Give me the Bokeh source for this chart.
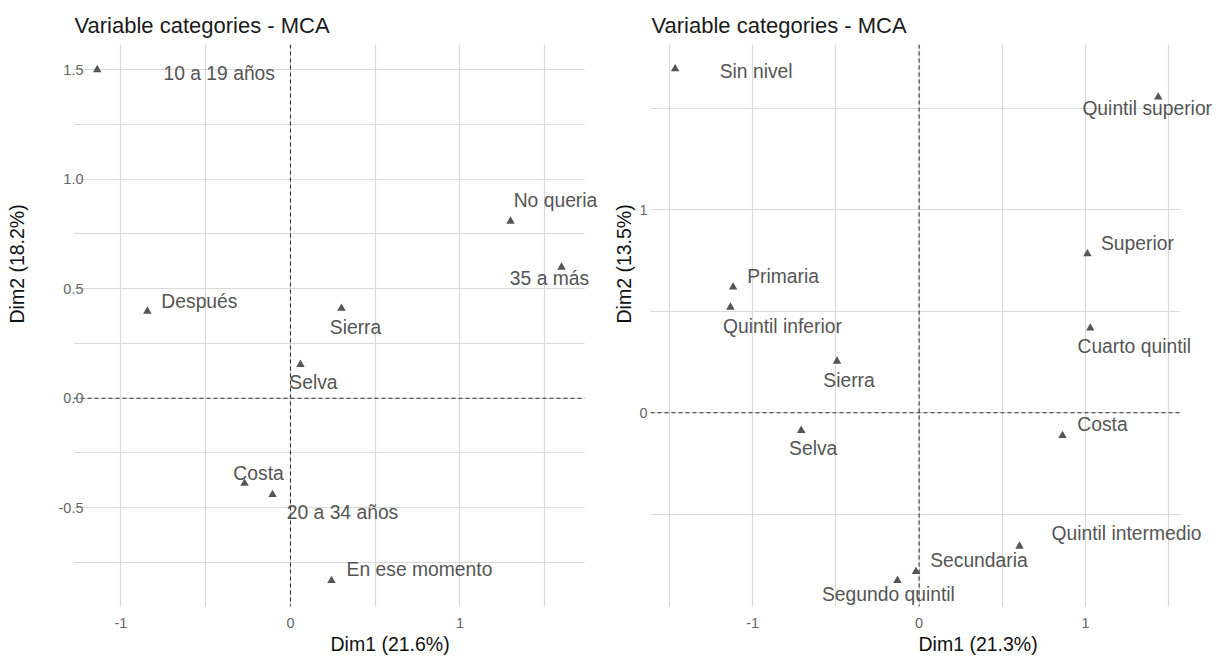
from bokeh.plotting import figure
from bokeh.models import (ColumnDataSource, LabelSet, Span, FixedTicker, Range1d,
                          PrintfTickFormatter, Title, LinearAxis, BoxAnnotation)
from bokeh.layouts import row
from bokeh.core.properties import value
from bokeh.embed import file_html
from bokeh.resources import INLINE

FONT = "Liberation Sans"

# ---------------- data: left panel ----------------
left_title = "Variable categories - MCA"
left_xlab = "Dim1 (21.6%)"
left_ylab = "Dim2 (18.2%)"
left_cats = ["10 a 19 años", "No queria", "35 a más", "Después", "Sierra",
             "Selva", "Costa", "20 a 34 años", "En ese momento"]
left_dim1 = [-1.140, 1.298, 1.599, -0.844, 0.301, 0.059, -0.271, -0.106, 0.242]
left_dim2 = [1.500, 0.808, 0.598, 0.397, 0.410, 0.154, -0.389, -0.440, -0.833]
# label placement (pixel offsets from the point, repel-style)
left_dx = [122, 45, -12, 52, 14, 13, 14, 70, 88]
left_dy = [-4, 21, -11, 10, -19, -18, 10, -18, 11]
left_xticks = [-1, 0, 1]
left_yticks = [-0.5, 0.0, 0.5, 1.0, 1.5]

# ---------------- data: right panel ----------------
right_title = "Variable categories - MCA"
right_xlab = "Dim1 (21.3%)"
right_ylab = "Dim2 (13.5%)"
right_cats = ["Sin nivel", "Quintil superior", "Superior", "Primaria",
              "Quintil inferior", "Cuarto quintil", "Sierra", "Selva", "Costa",
              "Quintil intermedio", "Secundaria", "Segundo quintil"]
right_dim1 = [-1.465, 1.436, 1.011, -1.117, -1.133, 1.028, -0.493, -0.708,
              0.861, 0.603, -0.019, -0.130]
right_dim2 = [1.694, 1.555, 0.783, 0.619, 0.520, 0.417, 0.254, -0.087,
              -0.112, -0.657, -0.782, -0.826]
right_dx = [81, -11, 50, 50, 52, 44, 12, 12, 40, 107, 63, -9]
right_dy = [-3, -11, 10, 11, -19, -18, -19, -18, 11, 13, 11, -14]
right_xticks = [-1, 0, 1]
right_yticks = [0, 1]

H = 657


def make_panel(cats, d1, d2, dx, dy, title, xlab, ylab, xr, yr, panel_edge,
               xticks, yticks, yfmt, gx, gy, width, bl, ystand, spacer,
               xlab_off, ylab_off):
    p = figure(width=width, height=H, x_range=Range1d(*xr), y_range=Range1d(*yr),
               output_backend="svg", toolbar_location=None,
               min_border_left=bl, min_border_right=0,
               min_border_top=44, min_border_bottom=51)
    p.outline_line_color = None
    p.background_fill_color = "white"
    p.border_fill_color = "white"

    # main title
    p.title.text = title
    p.title.text_font = FONT
    p.title.text_font_size = "22px"
    p.title.text_font_style = "normal"
    p.title.text_color = "#1a1a1a"
    p.title.align = "left"
    p.title.offset = 1
    p.title.standoff = 14

    # grid (major + minor, same look as theme_minimal here)
    p.xgrid.ticker = FixedTicker(ticks=gx)
    p.ygrid.ticker = FixedTicker(ticks=gy)
    for g in (p.xgrid, p.ygrid):
        g.grid_line_color = "#d9d9d9"
        g.grid_line_width = 1.2

    # axes
    p.xaxis.ticker = FixedTicker(ticks=xticks)
    p.yaxis.ticker = FixedTicker(ticks=yticks)
    p.xaxis.formatter = PrintfTickFormatter(format="%d")
    p.yaxis.formatter = PrintfTickFormatter(format=yfmt)
    for ax in (p.xaxis[0], p.yaxis[0]):
        ax.axis_line_color = None
        ax.major_tick_line_color = None
        ax.minor_tick_line_color = None
        ax.major_tick_in = 0
        ax.major_tick_out = 0
        ax.major_label_text_font = FONT
        ax.major_label_text_font_size = "14.5px"
        ax.major_label_text_color = "#666666"
    p.xaxis[0].major_label_standoff = 11
    p.yaxis[0].major_label_standoff = ystand

    # invisible spacer between tick labels and the y title
    if spacer > 0:
        gap = LinearAxis(ticker=FixedTicker(ticks=[0]), major_tick_out=spacer,
                         major_tick_in=0, major_label_standoff=0,
                         major_label_overrides={0: ""},
                         axis_line_color=None, major_tick_line_color=None,
                         minor_tick_line_color=None, minor_tick_out=0,
                         major_label_text_font_size="0px")
        p.add_layout(gap, "left")

    p.add_layout(Title(text=xlab, align="left", offset=xlab_off, standoff=0,
                       text_font=FONT, text_font_size="19.5px",
                       text_font_style="normal", text_color="#111111",
                       vertical_align="bottom"), "below")
    p.add_layout(Title(text=ylab, align="left", offset=ylab_off, standoff=0,
                       text_font=FONT, text_font_size="19.5px",
                       text_font_style="normal", text_color="#111111",
                       vertical_align="middle"), "left")

    # reference lines at 0
    for dim in ("height", "width"):
        p.add_layout(Span(location=0, dimension=dim, line_color="#333333",
                          line_width=1.1, line_dash="4 3", level="underlay"))
    # panel ends here; labels may run past it
    p.add_layout(BoxAnnotation(left=panel_edge, fill_color="white", fill_alpha=1.0,
                               line_color=None, level="underlay"))

    src = ColumnDataSource(dict(cat=cats, d1=d1, d2=d2, dx=dx, dy=dy))
    p.scatter(x="d1", y="d2", source=src, marker="triangle", size=8.5,
              fill_color="#555555", line_color=None)
    p.add_layout(LabelSet(x="d1", y="d2", text="cat", x_offset="dx", y_offset="dy",
                          source=src, text_align="center", text_baseline="middle",
                          text_font=value(FONT), text_font_size="19.3px",
                          text_color="#555555"))
    return p


p1 = make_panel(left_cats, left_dim1, left_dim2, left_dx, left_dy,
                left_title, left_xlab, left_ylab,
                (-1.280, 1.888), (-0.951, 1.615), 1.735,
                left_xticks, left_yticks, "%.1f",
                [-1, -0.5, 0, 0.5, 1, 1.5],
                [-0.75, -0.5, -0.25, 0, 0.25, 0.5, 0.75, 1.0, 1.25, 1.5],
                610, 73, -10, 27, 257, 283)

p2 = make_panel(right_cats, right_dim1, right_dim2, right_dx, right_dy,
                right_title, right_xlab, right_ylab,
                (-1.613, 1.804), (-0.954, 1.814), 1.570,
                right_xticks, right_yticks, "%d",
                [-1.5, -1, -0.5, 0, 0.5, 1, 1.5],
                [-0.5, 0, 0.5, 1, 1.5],
                609, 40, 3, 1, 268, 283)

layout = row(p1, p2)
open("out.html", "w").write(file_html(layout, INLINE))
